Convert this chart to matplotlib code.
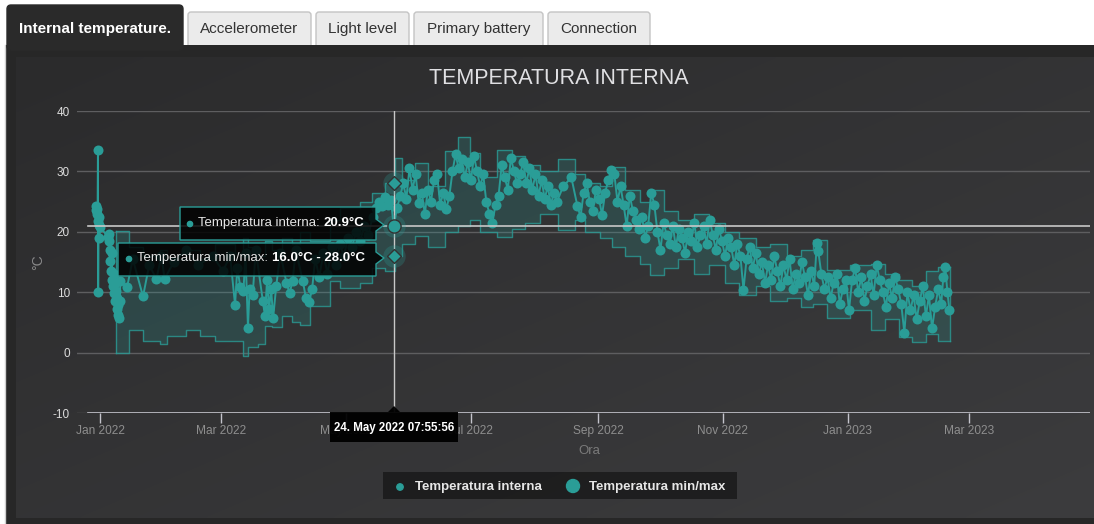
import numpy as np
import matplotlib
matplotlib.use("Agg")
import matplotlib.pyplot as plt
from matplotlib.patches import FancyBboxPatch, Rectangle, Polygon, Circle

plt.rcParams['font.family'] = ['Liberation Sans', 'DejaVu Sans']
plt.rcParams['axes.unicode_minus'] = False

W, H, DPI = 1094, 524, 100

# ---------------- data ----------------
title = "TEMPERATURA INTERNA"
tab_labels = ["Internal temperature.", "Accelerometer", "Light level", "Primary battery", "Connection"]
x_tick_days = [0, 59, 120, 181, 243, 304, 365, 424]          # days since 1 Jan 2022
x_tick_labels = ["Jan 2022", "Mar 2022", "May 2022", "Jul 2022", "Sep 2022",
                 "Nov 2022", "Jan 2023", "Mar 2023"]
y_ticks = [-10, 0, 10, 20, 30, 40]
series_names = ["Temperatura interna", "Temperatura min/max"]

interna_days = [
    -2.0, -1.8, -1.6, -1.4, -1.2, -1.0, -0.9, -0.7, -0.5, -0.3, -0.1,
    3.9, 4.2, 4.5, 4.8, 5.1, 5.4, 5.7, 6.0, 6.3, 6.6, 6.9, 7.2, 7.5, 7.8, 8.1, 8.4, 8.7, 9.0, 9.3, 9.6, 9.9,
    13.2, 16.0, 21.0, 24.0, 27.5, 30.0, 31.5, 36.0, 42.0, 48.0, 55.0, 60.0,
    63.5, 65.9, 67.0, 68.5, 70.0, 71.0, 72.2, 73.0, 74.5, 76.0, 79.5, 80.5, 81.5, 82.5, 83.5, 84.5, 86.0, 88.0,
    91.0, 92.5, 94.0, 95.5, 99.0, 100.5, 102.0, 103.5, 105.0, 107.0,
    109, 111, 113, 115, 117, 119, 121, 123, 125, 127, 129, 131, 133, 134.5, 136, 137.5, 139, 140.5, 142, 143.3,
    145, 146.5, 148, 149.5, 151, 152.5, 154, 155.5, 157, 158.5, 160, 161.5, 163, 164.5, 166, 167.5, 169, 170.5,
    172, 173.5, 175, 176.5, 178, 179.5, 181, 182.5, 184, 185.5, 187, 188.5, 190, 191.5, 193, 194.5, 196, 197.5,
    199, 200.5, 202, 203.5,
    205, 206.5, 208, 209.5, 211, 212.5, 214, 215.5, 217, 218.5, 220, 221.5, 223,
    226, 230, 233, 234.5, 236, 237.5, 239, 240.5, 242, 243.5, 245, 246.5, 248, 249.5, 251, 252.5, 254,
    255.5, 257, 258.5, 260, 261.5, 263, 264.5, 266, 267.5, 269, 270.5, 272, 273.5, 275, 276.5, 278, 279.5, 281,
    282.5, 284, 285.5, 287, 288.5, 290, 291.5, 293,
    294.5, 296, 297.5, 299, 300.5, 302, 303.5, 305, 306.5, 308, 309.5, 311, 312.5, 314, 315.5, 317, 318.5, 320,
    321.5, 323, 324.5, 326, 327.5, 329, 330.5,
    332, 333.5, 335, 336.5, 338, 339.5, 341, 342.5, 344, 345.5, 347, 348.5, 349.8, 350.5, 352, 353.5, 355, 356.5,
    358, 359.5, 361, 362.5, 364, 365.5,
    367, 368.5, 370, 371.5, 373, 374.5, 376, 377.5, 379, 380.5, 382, 383.5, 385, 386.5, 388, 389.5,
    391, 392.5, 394, 395.5, 397, 398.5, 400, 401.5, 403, 404.5, 406, 407.5, 409, 410.5, 411.5, 412.5, 413.5, 414.5,
]
interna_values = [
    23.6, 24.2, 22.9, 23.8, 21.8, 33.6, 10.0, 22.5, 21.2, 19.0, 20.8,
    19.2, 18.5, 19.6, 17.0, 15.2, 13.5, 16.5, 12.0, 11.0, 13.0, 9.8, 11.5, 8.5, 10.2, 7.2, 9.0, 6.2, 7.8, 5.8, 8.5, 11.8,
    10.8, 15.5, 9.3, 14.5, 12.2, 16.0, 12.2, 15.0, 17.0, 14.5, 16.0, 13.5,
    16.0, 7.9, 14.0, 10.8, 10.2, 16.5, 4.1, 10.5, 9.5, 17.0, 8.5, 6.0, 12.0, 7.2, 10.5, 5.8, 11.0, 16.5,
    11.5, 9.9, 11.8, 17.0, 11.8, 9.0, 8.3, 10.5, 15.5, 12.5,
    16.5, 13.0, 17.5, 14.5, 18.0, 16.0, 19.0, 17.5, 20.0, 18.5, 21.0, 19.5, 22.5, 24.0, 25.0, 24.2, 25.8, 24.5, 25.2, 20.9,
    24.0, 26.0, 28.0, 25.5, 30.5, 27.0, 29.5, 24.8, 26.5, 23.0, 27.0, 25.0, 28.5, 29.5, 24.5, 26.5, 23.7, 26.0,
    30.0, 32.8, 30.5, 32.0, 29.0, 31.5, 28.5, 32.5, 30.0, 27.5, 29.5, 25.0, 23.0, 21.5, 24.5, 26.0, 31.0, 29.0,
    27.0, 32.3, 30.0, 28.0,
    29.5, 31.5, 28.0, 30.5, 27.0, 29.5, 26.0, 28.5, 25.5, 27.5, 24.5, 26.5, 25.0,
    27.5, 29.0, 24.2, 22.5, 26.5, 28.0, 25.0, 23.5, 27.0, 25.5, 22.8, 26.5, 28.5, 30.3, 29.5, 25.0, 27.5,
    24.5, 20.9, 26.0, 23.5, 22.0, 20.5, 22.5, 19.0, 21.0, 26.5, 24.5, 20.0, 17.0, 21.5, 19.5, 18.0, 21.0, 17.5,
    20.5, 19.0, 16.5, 20.0, 18.5, 21.5, 17.5, 19.5,
    21.0, 18.0, 22.0, 19.5, 17.0, 20.5, 18.5, 16.0, 19.0, 17.5, 14.5, 18.0, 16.0, 10.4, 15.5, 17.5, 14.0, 16.5,
    13.0, 15.0, 11.5, 14.5, 12.0, 16.0, 13.5,
    11.0, 14.5, 12.0, 15.5, 10.5, 13.0, 11.5, 15.0, 12.5, 9.5, 13.5, 11.0, 18.2, 16.8, 13.0, 10.5, 12.5, 9.0,
    11.5, 13.0, 8.0, 10.5, 12.0, 7.0,
    12.0, 14.0, 10.0, 12.5, 8.5, 11.0, 13.0, 9.5, 14.5, 12.0, 10.0, 7.5, 11.5, 9.0, 12.5, 10.5,
    8.0, 3.3, 10.0, 7.0, 9.5, 5.5, 8.5, 11.0, 6.0, 9.5, 4.0, 7.5, 10.5, 8.0, 12.5, 14.1, 10.0, 7.0,
]

range_days = [7.8, 14.1, 21.0, 29.3, 32.7, 42.0, 48.8, 56.0, 65.9, 69.8, 72.2, 77.0, 80.5, 83.9, 88.8,
              93.7, 97.6, 102.4, 112.0, 117.0, 127.0, 132.7, 139.0, 143.9, 147.3, 153.7, 160.0, 168.3,
              174.6, 180.5, 185.4, 193.7, 201.0, 207.3, 214.6, 223.4, 231.7, 236.6, 243.9, 249.8, 256.0,
              263.4, 268.3, 275.0, 282.0, 290.0, 297.0, 305.0, 312.0, 320.0, 327.0, 335.0, 342.0, 348.0,
              354.6, 366.0, 376.0, 383.0, 390.0, 396.0, 403.0, 409.0]
range_low = [0.0, 3.8, 1.9, 1.4, 2.8, 3.7, 2.8, 1.9, 2.0, -0.5, 1.0, 1.5, 4.4, 4.2, 6.0,
             5.0, 4.6, 7.7, 11.8, 10.7, 11.5, 14.0, 13.5, 16.0, 18.0, 19.3, 17.5, 20.0,
             21.0, 22.0, 20.0, 19.2, 20.5, 21.5, 23.0, 20.3, 22.0, 20.0, 19.0, 17.5, 16.0,
             14.6, 12.8, 14.0, 15.5, 13.0, 14.5, 11.5, 9.5, 11.0, 8.5, 9.0, 7.5, 8.0,
             5.8, 7.0, 3.8, 5.5, 2.5, 1.7, 3.0, 2.0]
range_high = [20.2, 17.5, 16.0, 17.0, 15.5, 17.0, 15.5, 18.0, 16.5, 19.0, 17.5, 16.0, 18.5, 17.0, 19.0,
              18.0, 20.0, 18.5, 22.0, 24.0, 25.0, 26.5, 28.0, 32.2, 28.5, 31.4, 27.5, 33.3,
              35.7, 33.0, 29.0, 33.6, 32.5, 31.0, 30.0, 32.0, 29.5, 28.0, 27.5, 30.8, 27.0,
              25.0, 27.0, 23.5, 22.0, 23.0, 21.5, 20.0, 19.0, 17.5, 18.0, 16.0, 17.0, 18.7,
              13.6, 14.5, 14.6, 13.0, 12.0, 11.0, 13.5, 14.2]
range_end_day = 415.0

hover_day = 143.33
hover_value = 20.9
hover_min = 16.0
hover_max = 28.0
hover_date_label = "24. May 2022 07:55:56"

# ---------------- style ----------------
TEAL = '#2a9d97'
GRID = '#5e5e60'
PX_PER_DAY = 2.0493
X0_PX = 100.0
AX_L, AX_R, AX_T, AX_B = 77, 1090, 111, 413

fig = plt.figure(figsize=(W / DPI, H / DPI), dpi=DPI)
fig.patch.set_facecolor('white')

# background layer in pixel coordinates
bg = fig.add_axes([0, 0, 1, 1], zorder=0)
bg.set_xlim(0, W); bg.set_ylim(H, 0); bg.axis('off')

# tabs
tab_boxes = [(7, 5, 176), (188, 12, 123), (316, 12, 93), (414, 12, 129), (548, 12, 102)]
for i, (lab, (tx, ty, tw)) in enumerate(zip(tab_labels, tab_boxes)):
    if i == 0:
        bg.add_patch(FancyBboxPatch((tx, ty), tw, 50 - ty, boxstyle="round,pad=0,rounding_size=4",
                                    facecolor='#2a2a2a', edgecolor='#2a2a2a', lw=1, zorder=2))
        bg.text(tx + tw / 2, 29, lab, color='white', fontsize=11, fontweight='bold',
                ha='center', va='center', zorder=3)
    else:
        bg.add_patch(FancyBboxPatch((tx, ty), tw, 50 - ty, boxstyle="round,pad=0,rounding_size=3",
                                    facecolor='#ebebeb', edgecolor='#c4c4c4', lw=1, zorder=1))
        bg.text(tx + tw / 2, 29, lab, color='#333333', fontsize=11,
                ha='center', va='center', zorder=3)

# panel
bg.add_patch(Rectangle((5, 45), W - 5, H - 45, facecolor='#272727', edgecolor='none', zorder=1.5))
bg.plot([4.5, 4.5], [45, H], color='#cfcfcf', lw=1, zorder=1.6)
gx, gy = np.meshgrid(np.linspace(0, 1, 300), np.linspace(0, 1, 200))
t = (gx + gy) / 2
c0 = np.array([0x2b, 0x2b, 0x2c]) / 255
c1 = np.array([0x3c, 0x3c, 0x3e]) / 255
img = c0 + (c1 - c0) * t[..., None]
bg.imshow(img, extent=(16, W, 518, 57), aspect='auto', interpolation='bilinear', zorder=1.7)
bg.set_xlim(0, W); bg.set_ylim(H, 0)

# ---------------- main chart ----------------
ax = fig.add_axes([AX_L / W, 1 - AX_B / H, (AX_R - AX_L) / W, (AX_B - AX_T) / H], zorder=1)
ax.patch.set_alpha(0)
ax.set_xlim((AX_L - X0_PX) / PX_PER_DAY, (AX_R - X0_PX) / PX_PER_DAY)
ax.set_ylim(-10, 40)
for s in ax.spines.values():
    s.set_visible(False)
ax.set_yticks(y_ticks)
ax.yaxis.grid(True, color=GRID, lw=1)
ax.set_axisbelow(True)
ax.tick_params(axis='y', length=0, pad=5, labelsize=8.5, labelcolor='#dcdcdc')
ax.set_xticks(x_tick_days)
ax.set_xticklabels(x_tick_labels)
ax.tick_params(axis='x', length=7, width=1, color='#c4c4cc', pad=1.5, labelsize=8.6, labelcolor='#8e8e8e')
axis_start = 11 / (AX_R - AX_L)
ax.axhline(-10, xmin=axis_start, color='#c4c4cc', lw=1.2, zorder=4)

# min/max step area
rx = list(range_days) + [range_end_day]
rl = list(range_low) + [range_low[-1]]
rh = list(range_high) + [range_high[-1]]
ax.fill_between(rx, rl, rh, step='post', facecolor=TEAL, alpha=0.22, lw=0, zorder=2)
ax.step(rx, rl, where='post', color=TEAL, lw=1, alpha=0.8, zorder=2.1)
ax.step(rx, rh, where='post', color=TEAL, lw=1, alpha=0.8, zorder=2.1)
ax.plot([rx[0], rx[0]], [rl[0], rh[0]], color=TEAL, lw=1, alpha=0.8, zorder=2.1)
ax.plot([rx[-1], rx[-1]], [rl[-1], rh[-1]], color=TEAL, lw=1, alpha=0.8, zorder=2.1)

# internal temperature
ax.plot(interna_days, interna_values, color=TEAL, lw=1.4, marker='o', ms=7.2,
        markeredgewidth=0, zorder=3)

# crosshairs
ax.axvline(hover_day, color='#c8c8c8', lw=1, zorder=4)
ax.axhline(hover_value, xmin=axis_start, color='#c8c8c8', lw=1.2, zorder=4)

# hover markers
ax.scatter([hover_day] * 3, [hover_max, hover_value, hover_min], s=260, color=TEAL, alpha=0.25,
           lw=0, zorder=5)
ax.plot([hover_day], [hover_value], marker='o', ms=9.5, color=TEAL, mec='#333333', mew=1, zorder=6)
ax.plot([hover_day] * 2, [hover_max, hover_min], ls='none', marker='D', ms=7, color=TEAL,
        mec='#333333', mew=1, zorder=6)

# ---------------- overlay ----------------
ov = fig.add_axes([0, 0, 1, 1], zorder=2)
ov.set_xlim(0, W); ov.set_ylim(H, 0); ov.axis('off')

ov.text(559, 78, title, color='#e0e0e3', fontsize=15.5, ha='center', va='center')
ov.text(38, 262, "°C", color='#8a8a8a', fontsize=10, rotation=90, ha='center', va='center')
ov.text(589, 451, "Ora", color='#7a7a7a', fontsize=9.5, ha='center', va='center')


def tooltip(x0, y0, x1, y1, tip, dotx, ty, normal, bold):
    verts = [(x0, y0), (x1, y0), (x1, tip[1] - 6), tip, (x1, tip[1] + 6), (x1, y1), (x0, y1)]
    ov.add_patch(Polygon(verts, closed=True, facecolor=(0, 0, 0, 0.85), edgecolor=TEAL,
                         lw=1, zorder=5))
    ov.add_patch(Circle((dotx, ty), 2.6, color=TEAL, zorder=6))
    tt = ov.text(dotx + 8, ty + 5, normal, color='#e6e6e6', fontsize=9.5, ha='left',
                 va='bottom', zorder=6)
    ov.annotate(bold, xy=(1, 0), xycoords=tt, ha='left', va='bottom', fontsize=9.5,
                fontweight='bold', color='white', zorder=6)


tooltip(180, 207, 376, 240, (384, 225), 190, 224,
        f"{series_names[0]}: ", f"{hover_value:.1f}°C")
tooltip(118, 243, 376, 276, (384, 258), 129, 259,
        f"{series_names[1]}: ", f"{hover_min:.1f}°C - {hover_max:.1f}°C")

# date label (covers part of the "May 2022" tick label, as in the original)
ov.add_patch(Polygon([(330, 412), (388, 412), (394, 406), (400, 412), (458, 412), (458, 442), (330, 442)],
                     closed=True, facecolor=(0, 0, 0, 0.95), edgecolor='none', zorder=5))
ov.text(394, 428, hover_date_label, color='white', fontsize=8.3, fontweight='bold',
        ha='center', va='center', zorder=6)

# legend
ov.add_patch(Rectangle((383, 472), 354, 27, facecolor=(0, 0, 0, 0.45), edgecolor='none', zorder=5))
ov.add_patch(Circle((400, 487), 3.2, color=TEAL, zorder=6))
ov.text(415, 487, series_names[0], color='#e6e6e6', fontsize=9.5, fontweight='bold',
        ha='left', va='center', zorder=6)
ov.add_patch(Circle((573, 486), 6.5, color=TEAL, zorder=6))
ov.text(589, 487, series_names[1], color='#e6e6e6', fontsize=9.5, fontweight='bold',
        ha='left', va='center', zorder=6)

fig.savefig("out.png", dpi=DPI, facecolor='white')
